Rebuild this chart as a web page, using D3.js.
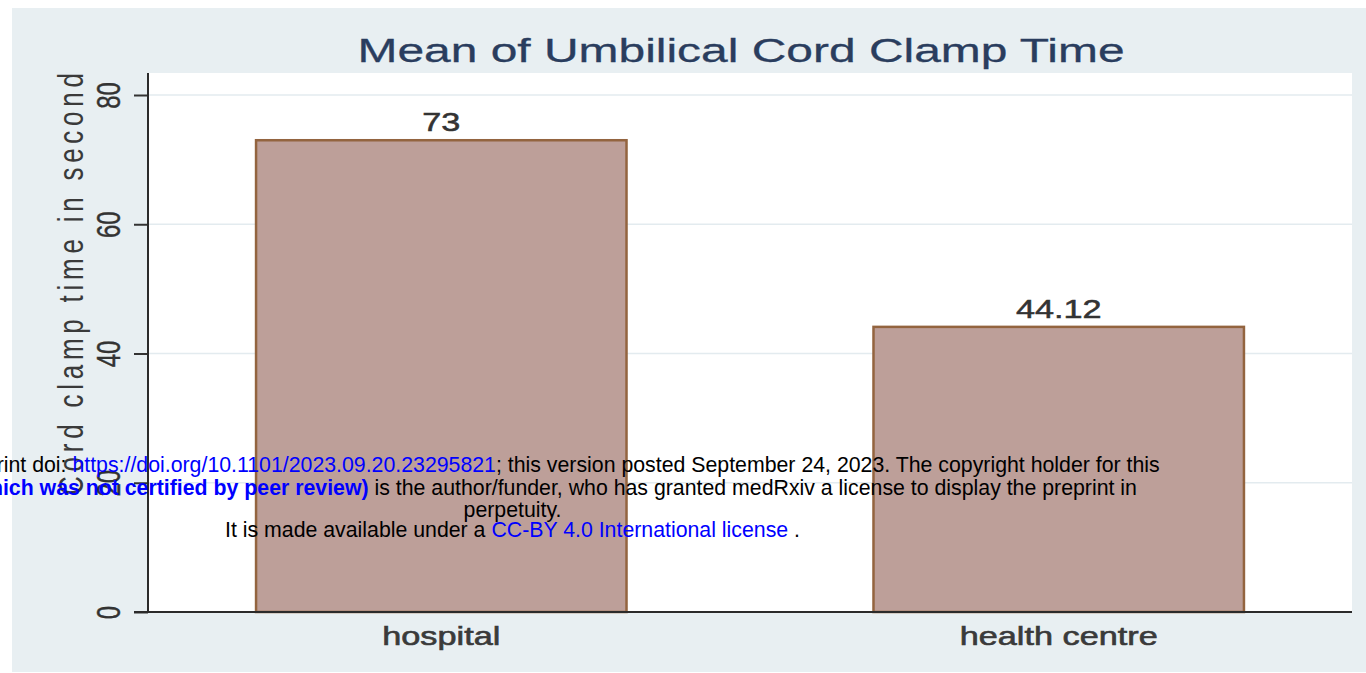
<!DOCTYPE html>
<html>
<head>
<meta charset="utf-8">
<script src="https://cdn.jsdelivr.net/npm/d3@7"></script>
<style>
  html, body { margin: 0; padding: 0; background: #fff; }
  svg { display: block; font-family: "Liberation Sans", Arial, sans-serif; }
</style>
</head>
<body>
<svg id="chart" width="1366" height="673"></svg>
<script>
// data
var categories = ["hospital", "health centre"];
var meanValues = [73, 44.12];
var valueLabels = ["73", "44.12"];
var yTicks = [0, 20, 40, 60, 80];
var chartTitle = "Mean of Umbilical Cord Clamp Time";
var yTitle = "Cord clamp time in second";

// layout
var W = 1366, H = 673;
var plot = {left: 148, right: 1352, top: 73, bottom: 612};
var sx = 1.37; // the stata export is stretched sideways

var svg = d3.select("#chart");

// outer graph region
svg.append("rect")
    .attr("x", 12).attr("y", 8)
    .attr("width", W - 12).attr("height", 664)
    .attr("fill", "#e8eff2");

// plot region
svg.append("rect")
    .attr("x", plot.left).attr("y", plot.top)
    .attr("width", plot.right - plot.left)
    .attr("height", plot.bottom - plot.top)
    .attr("fill", "#ffffff");

var x = d3.scaleBand()
    .domain(categories)
    .range([plot.left, plot.right])
    .paddingInner(0.4)
    .paddingOuter(0.175);

var y = d3.scaleLinear()
    .domain([0, 80])
    .range([plot.bottom, 95]);

// grid lines
svg.append("g")
    .selectAll("line")
    .data(yTicks.filter(function(d){ return d > 0; }))
    .enter()
    .append("line")
    .attr("x1", plot.left).attr("x2", plot.right)
    .attr("y1", function(d){ return y(d); })
    .attr("y2", function(d){ return y(d); })
    .attr("stroke", "#e3ebef")
    .attr("stroke-width", 1.5);

// bars
var data = d3.zip(categories, meanValues, valueLabels);

svg.append("g")
    .selectAll("rect")
    .data(data)
    .enter()
    .append("rect")
    .attr("x", function(d){ return x(d[0]); })
    .attr("y", function(d){ return y(d[1]); })
    .attr("width", x.bandwidth())
    .attr("height", function(d){ return y(0) - y(d[1]); })
    .attr("fill", "#bd9f99")
    .attr("stroke", "#93643f")
    .attr("stroke-width", 2.5);

// value labels
svg.append("g")
    .selectAll("text")
    .data(data)
    .enter()
    .append("text")
    .attr("transform", function(d){
        return "translate(" + (x(d[0]) + x.bandwidth() / 2) + "," + (y(d[1]) - 9) + ") scale(" + sx + ",1)";
    })
    .attr("text-anchor", "middle")
    .attr("font-size", 25)
    .attr("fill", "#333")
    .attr("stroke", "#333")
    .attr("stroke-width", 0.5)
    .text(function(d){ return d[2]; });

// y axis
var yAxis = svg.append("g")
    .attr("transform", "translate(" + plot.left + ",0)")
    .call(d3.axisLeft(y).tickValues(yTicks).tickSize(14).tickSizeOuter(0));
yAxis.select(".domain").remove();
yAxis.selectAll(".tick line")
    .attr("stroke", "#333")
    .attr("stroke-width", 2);
yAxis.selectAll(".tick text")
    .attr("x", null)
    .attr("dy", null)
    .attr("text-anchor", "middle")
    .attr("font-size", 24)
    .attr("font-family", "Liberation Sans, Arial, sans-serif")
    .attr("fill", "#333")
    .attr("stroke", "#333")
    .attr("stroke-width", 0.3)
    .attr("transform", "translate(-28,0) scale(" + sx + ",1) rotate(-90)");
yAxis.append("line")
    .attr("x1", 0).attr("x2", 0)
    .attr("y1", plot.top).attr("y2", plot.bottom)
    .attr("stroke", "#2b2b2b")
    .attr("stroke-width", 2);

// x axis
var xAxis = svg.append("g")
    .attr("transform", "translate(0," + plot.bottom + ")")
    .call(d3.axisBottom(x).tickSize(0).tickSizeOuter(0));
xAxis.select(".domain").remove();
xAxis.selectAll(".tick text")
    .attr("y", null)
    .attr("dy", null)
    .attr("font-size", 25)
    .attr("font-family", "Liberation Sans, Arial, sans-serif")
    .attr("fill", "#3a3a3a")
    .attr("stroke", "#3a3a3a")
    .attr("stroke-width", 0.6)
    .attr("transform", "translate(0,33) scale(" + sx + ",1)");
svg.append("line")
    .attr("x1", plot.left - 14).attr("x2", plot.right)
    .attr("y1", plot.bottom).attr("y2", plot.bottom)
    .attr("stroke", "#2b2b2b")
    .attr("stroke-width", 2);

// y title
svg.append("text")
    .attr("transform", "translate(83,73) scale(" + sx + ",1) rotate(-90)")
    .attr("text-anchor", "end")
    .attr("font-size", 26)
    .attr("fill", "#3a3a3a")
    .attr("textLength", 422)
    .attr("lengthAdjust", "spacing")
    .text(yTitle);

// title
svg.append("text")
    .attr("transform", "translate(741,62) scale(1.41,1)")
    .attr("text-anchor", "middle")
    .attr("font-size", 34)
    .attr("fill", "#2a3d5e")
    .attr("stroke", "#2a3d5e")
    .attr("stroke-width", 0.3)
    .text(chartTitle);

// medRxiv watermark on top
var blue = "#0000ff";
var stamp = [
    {y: 472, parts: [
        ["medRxiv preprint doi: ", "#000", "normal"],
        ["https://doi.org/10.1101/2023.09.20.23295821", blue, "normal"],
        ["; this version posted September 24, 2023. The copyright holder for this", "#000", "normal"]]},
    {y: 495, parts: [
        ["preprint ", "#000", "normal"],
        ["(which was not certified by peer review)", blue, "bold"],
        [" is the author/funder, who has granted medRxiv a license to display the preprint in", "#000", "normal"]]},
    {y: 517, parts: [["perpetuity.", "#000", "normal"]]},
    {y: 537, parts: [
        ["It is made available under a ", "#000", "normal"],
        ["CC-BY 4.0 International license", blue, "normal"],
        [" .", "#000", "normal"]]}
];

var lines = svg.append("g")
    .attr("font-size", 21.3)
    .selectAll("text")
    .data(stamp)
    .enter()
    .append("text")
    .attr("x", 512.5)
    .attr("y", function(d){ return d.y; })
    .attr("text-anchor", "middle");

lines.selectAll("tspan")
    .data(function(d){ return d.parts; })
    .enter()
    .append("tspan")
    .attr("fill", function(p){ return p[1]; })
    .attr("font-weight", function(p){ return p[2]; })
    .text(function(p){ return p[0]; });
</script>
</body>
</html>
